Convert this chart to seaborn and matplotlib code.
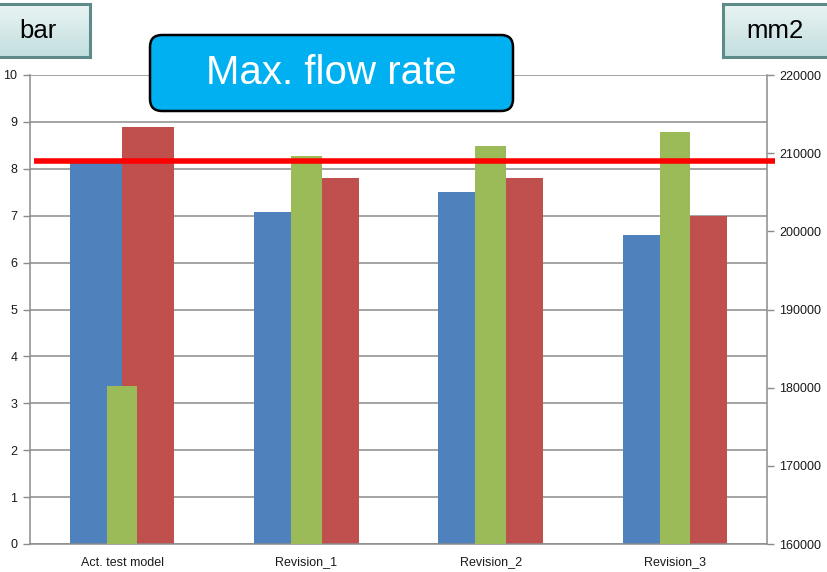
import numpy as np
import pandas as pd
import matplotlib
matplotlib.use("Agg")
import matplotlib.pyplot as plt
import seaborn as sns
from matplotlib.patches import FancyBboxPatch
from matplotlib.transforms import IdentityTransform, blended_transform_factory

# ---- data ----
categories = ["Act. test model", "Revision_1", "Revision_2", "Revision_3"]
pressure_a = [8.15, 7.08, 7.50, 6.59]          # blue, bar (left axis)
pressure_b = [8.89, 7.80, 7.80, 6.99]          # red, bar (left axis)
flow_area = [180200, 209650, 210900, 212700]   # green, mm2 (right axis)
limit_bar = 8.17                               # red limit line
left_ticks = list(range(0, 11))
right_ticks = [160000, 170000, 180000, 190000, 200000, 210000, 220000]

BLUE, RED, GREEN = "#4F81BD", "#C0504D", "#9BBB59"
GRID = "#8C8C8C"

sns.set_theme(style="white")
plt.rcParams["font.family"] = ["Liberation Sans", "DejaVu Sans"]

W, H = 827, 572
fig = plt.figure(figsize=(W / 100, H / 100), dpi=100)
fig.patch.set_facecolor("white")

L, R, B, T = 30, 767, 544, 75
ax = fig.add_axes([L / W, 1 - B / H, (R - L) / W, (B - T) / H])

df = pd.DataFrame({
    "category": categories * 2,
    "series": ["A"] * 4 + ["B"] * 4,
    "value": pressure_a + pressure_b,
})
sns.barplot(data=df, x="category", y="value", hue="series", order=categories,
            palette=[BLUE, RED], width=0.566, saturation=1, legend=False,
            ax=ax, linewidth=0, zorder=2)
ax.set_ylim(0, 10)
ax.set_yticks(left_ticks)
ax.set_xlim(-0.5, len(categories) - 0.5)
ax.grid(axis="y", color=GRID, linewidth=1.1, zorder=0)
ax.set_axisbelow(True)
ax.set_xlabel("")
ax.set_ylabel("")
for s in ["top", "right"]:
    ax.spines[s].set_visible(False)
for s in ["left", "bottom"]:
    ax.spines[s].set_color(GRID)
    ax.spines[s].set_linewidth(1.1)
ax.set_xticks(np.arange(-0.5, len(categories)), minor=True)
ax.tick_params(axis="x", which="major", length=0, pad=9, labelsize=9, labelcolor="#1a1a1a")
ax.tick_params(axis="x", which="minor", length=5, width=1, color=GRID, direction="out")
ax.tick_params(axis="y", length=5, width=1, color=GRID, direction="out", pad=4,
               labelsize=9, labelcolor="#1a1a1a", left=True)

ax2 = ax.twinx()
sns.barplot(x=categories, y=flow_area, color=GREEN, width=0.165, saturation=1,
            ax=ax2, linewidth=0, zorder=2)
ax2.set_ylim(160000, 220000)
ax2.set_yticks(right_ticks)
ax2.set_ylabel("")
ax2.set_xlim(-0.5, len(categories) - 0.5)
for s in ["top", "left", "bottom"]:
    ax2.spines[s].set_visible(False)
ax2.spines["right"].set_color(GRID)
ax2.spines["right"].set_linewidth(1.1)
ax2.tick_params(axis="y", length=5, width=1, color=GRID, direction="out", pad=4,
                labelsize=9, labelcolor="#1a1a1a", right=True)

# red limit line (value on left axis)
tr = blended_transform_factory(ax2.transAxes, ax.transData)
ax2.plot([0.005, 1.011], [limit_bar, limit_bar], color="#FF0000", linewidth=4.0,
         transform=tr, clip_on=False, zorder=10, solid_capstyle="butt")

# unit boxes with gradient
def unit_box(x0, y0, x1, y1, text, tx):
    bax = fig.add_axes([x0 / W, 1 - y1 / H, (x1 - x0) / W, (y1 - y0) / H])
    grad = np.linspace(0, 1, 64).reshape(-1, 1)
    c_top = np.array([0xEA, 0xF4, 0xF4]) / 255
    c_bot = np.array([0xC2, 0xDE, 0xDE]) / 255
    img = c_top[None, None, :] * (1 - grad[:, :, None]) + c_bot[None, None, :] * grad[:, :, None]
    bax.imshow(img, aspect="auto", extent=[0, 1, 0, 1], origin="upper")
    bax.set_xticks([]); bax.set_yticks([])
    for s in bax.spines.values():
        s.set_color("#5E8A8A"); s.set_linewidth(2.2)
    bax.text((tx - x0) / (x1 - x0), 0.5, text, ha="center", va="center",
             fontsize=18.5, color="black", transform=bax.transAxes)
    return bax

unit_box(-14, 4, 90, 57, "bar", 38)
unit_box(723, 4, 840, 57, "mm2", 775)

# title box
box = FancyBboxPatch((150, H - 111), 363, 76,
                     boxstyle="round,pad=0,rounding_size=12",
                     transform=IdentityTransform(), facecolor="#00B0F0",
                     edgecolor="black", linewidth=1.8, zorder=20)
fig.add_artist(box)
fig.text((150 + 363 / 2) / W, 1 - 73 / H, "Max. flow rate", ha="center", va="center",
         fontsize=29, color="white", zorder=21)

fig.savefig("out.png", dpi=100)
